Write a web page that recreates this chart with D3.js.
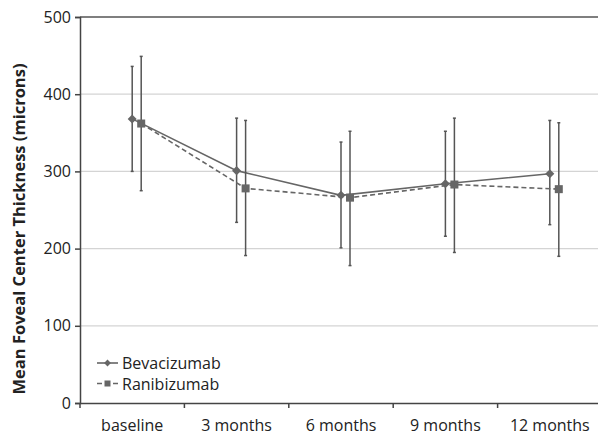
<!DOCTYPE html>
<html lang="en">
<head>
<meta charset="utf-8" />
<title>Mean Foveal Center Thickness</title>
<style>
    body { margin: 0; background: #fff; }
    svg text { font-family: "Open Sans", "Noto Sans", sans-serif; fill: #222; }
</style>
<script src="https://cdn.jsdelivr.net/npm/d3@7"></script>
</head>
<body>
<div id="chart"></div>
<script>
const categories = ['baseline', '3 months', '6 months', '9 months', '12 months'];
const yTicks = [0, 100, 200, 300, 400, 500];

// mean, lower and upper end of the error bar
const bevMean = [368, 301, 269, 284, 297];
const bevLow  = [300, 234, 201, 216, 231];
const bevHigh = [436, 369, 338, 352, 366];
const ranMean = [362, 278, 266, 283, 277];
const ranLow  = [275, 191, 178, 195, 190];
const ranHigh = [449, 366, 352, 369, 363];

const W = 598, H = 438;
const margin = {top: 17, right: -4, bottom: 35, left: 80};
const width = W - margin.left - margin.right,
      height = H - margin.top - margin.bottom;

const svg = d3.select('#chart').append('svg')
    .attr('width', W).attr('height', H);
const g = svg.append('g')
    .attr('transform', 'translate(' + margin.left + ',' + margin.top + ')');

const x = d3.scaleBand().domain(categories).range([0, width]);
const y = d3.scaleLinear().domain([0, 500]).range([height, 0]);

// gridlines
g.selectAll('.grid').data(yTicks.filter(d => d > 0 && d < 500))
  .enter().append('line')
    .attr('x1', 0).attr('x2', width)
    .attr('y1', d => y(d)).attr('y2', d => y(d))
    .style('stroke', '#d4d4d4').style('stroke-width', 1.2);

// top border
g.append('line')
    .attr('x1', 0).attr('x2', width).attr('y1', y(500)).attr('y2', y(500))
    .style('stroke', '#555').style('stroke-width', 1.5);

// axes
const xAxis = g.append('g')
    .attr('transform', 'translate(0,' + height + ')')
    .call(d3.axisBottom(x).tickSize(0).tickPadding(17));
xAxis.select('.domain').style('stroke', '#444').style('stroke-width', 1.5);
xAxis.selectAll('text').style('font-size', '16px');
xAxis.selectAll('.bt').data(d3.range(categories.length + 1))
  .enter().append('line')
    .attr('x1', i => i * x.bandwidth()).attr('x2', i => i * x.bandwidth())
    .attr('y1', 0).attr('y2', 5)
    .style('stroke', '#444').style('stroke-width', 1.5);

const yAxis = g.append('g')
    .call(d3.axisLeft(y).tickValues(yTicks).tickSize(5).tickPadding(4));
yAxis.select('.domain').style('stroke', '#444').style('stroke-width', 1.5);
yAxis.selectAll('.tick line').style('stroke', '#444').style('stroke-width', 1.5);
yAxis.selectAll('text').style('font-size', '16px');

svg.append('text')
    .attr('transform', 'translate(25,229) rotate(-90)')
    .attr('text-anchor', 'middle')
    .style('font-size', '16.5px').style('font-weight', 'bold')
    .text('Mean Foveal Center Thickness (microns)');

const series = [
    {name: 'Bevacizumab', mean: bevMean, low: bevLow, high: bevHigh, dx: 0, dash: null, shape: 'diamond', size: 3.2},
    {name: 'Ranibizumab', mean: ranMean, low: ranLow, high: ranHigh, dx: 9, dash: '5,3', shape: 'square', size: 4}
];
const cx = (i, s) => x(categories[i]) + x.bandwidth() / 2 + s.dx;

series.forEach(s => {
    const pts = d3.range(categories.length);
    // error bars
    const eb = g.append('g');
    pts.forEach(i => {
        eb.append('line')
            .attr('x1', cx(i, s)).attr('x2', cx(i, s))
            .attr('y1', y(s.low[i])).attr('y2', y(s.high[i]))
            .style('stroke', '#555').style('stroke-width', 1.5);
        [s.low[i], s.high[i]].forEach(v => {
            eb.append('line')
                .attr('x1', cx(i, s) - 1.5).attr('x2', cx(i, s) + 1.5)
                .attr('y1', y(v)).attr('y2', y(v))
                .style('stroke', '#555').style('stroke-width', 1.5);
        });
    });
    g.append('path')
        .datum(pts)
        .attr('d', d3.line().x(i => cx(i, s)).y(i => y(s.mean[i])))
        .style('fill', 'none').style('stroke', '#666').style('stroke-width', 1.6)
        .style('stroke-dasharray', s.dash);
    g.selectAll('.m' + s.name).data(pts).enter().append('rect')
        .attr('x', i => cx(i, s) - s.size)
        .attr('y', i => y(s.mean[i]) - s.size)
        .attr('width', s.size * 2).attr('height', s.size * 2)
        .attr('transform', i => s.shape === 'diamond'
            ? 'rotate(45,' + cx(i, s) + ',' + y(s.mean[i]) + ')' : null)
        .style('fill', '#666');
});

// legend
const legend = svg.selectAll('.legend').data(series).enter().append('g')
    .attr('transform', (d, i) => 'translate(97,' + (363 + i * 20.5) + ')');
legend.append('line')
    .attr('x1', 0).attr('x2', 21).attr('y1', 0).attr('y2', 0)
    .style('stroke', '#666').style('stroke-width', 1.6)
    .style('stroke-dasharray', d => d.dash);
legend.append('rect')
    .attr('x', d => 10.5 - d.size * 0.75).attr('y', d => -d.size * 0.75)
    .attr('width', d => d.size * 1.5).attr('height', d => d.size * 1.5)
    .attr('transform', d => d.shape === 'diamond' ? 'rotate(45,10.5,0)' : null)
    .style('fill', '#666');
legend.append('text')
    .attr('x', 25).attr('y', 6)
    .style('font-size', '16px')
    .text(d => d.name);
</script>
</body>
</html>
